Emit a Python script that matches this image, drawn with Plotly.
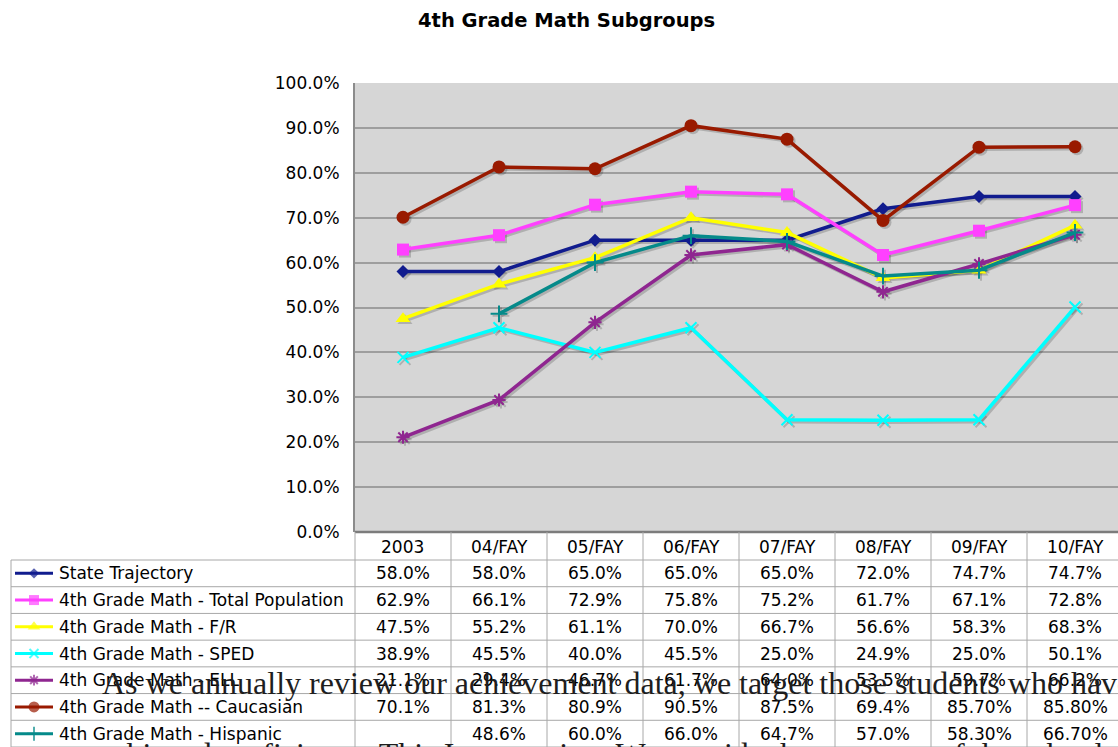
import plotly.graph_objects as go

# ---------------- data ----------------
categories = ["2003", "04/FAY", "05/FAY", "06/FAY", "07/FAY", "08/FAY", "09/FAY", "10/FAY"]
series_names = [
    "State Trajectory",
    "4th Grade Math - Total Population",
    "4th Grade Math - F/R",
    "4th Grade Math - SPED",
    "4th Grade Math - ELL",
    "4th Grade Math -- Caucasian",
    "4th Grade Math - Hispanic",
]
state_trajectory = [58.0, 58.0, 65.0, 65.0, 65.0, 72.0, 74.7, 74.7]
total_population = [62.9, 66.1, 72.9, 75.8, 75.2, 61.7, 67.1, 72.8]
free_reduced = [47.5, 55.2, 61.1, 70.0, 66.7, 56.6, 58.3, 68.3]
sped = [38.9, 45.5, 40.0, 45.5, 25.0, 24.9, 25.0, 50.1]
ell = [21.1, 29.4, 46.7, 61.7, 64.0, 53.5, 59.7, 66.2]
caucasian = [70.1, 81.3, 80.9, 90.5, 87.5, 69.4, 85.70, 85.80]
hispanic = [None, 48.6, 60.0, 66.0, 64.7, 57.0, 58.30, 66.70]
# decimals shown in the data table
table_decimals = [
    [1] * 8, [1] * 8, [1] * 8, [1] * 8, [1] * 8,
    [1, 1, 1, 1, 1, 1, 2, 2],
    [1, 1, 1, 1, 1, 1, 2, 2],
]
y_ticks = [0, 10, 20, 30, 40, 50, 60, 70, 80, 90, 100]
y_tick_labels = [f"{v:.1f}%" for v in y_ticks]
title_text = "4th Grade Math Subgroups"
overlay_line1 = "As we annually review our achievement data, we target those students who have"
overlay_line2 = "not yet achieved proficiency. This Intervention  We provide the structure of the school day to help"

all_series = [state_trajectory, total_population, free_reduced, sped, ell, caucasian, hispanic]

# ---------------- style ----------------
W, H = 1118, 747
colors = ["#111c8e", "#ff40ff", "#ffff00", "#00ffff", "#8f2690", "#991a00", "#058a8a"]
symbols = ["diamond", "square", "triangle-up", "x-thin-open", "asterisk-open", "circle", "cross-thin-open"]
msizes = [10, 12, 13, 11, 11, 13, 12]
FONT = "DejaVu Sans, Verdana, sans-serif"
LW = 3.5

PLOT_L, PLOT_T, PLOT_B = 355, 83, 532
COL_W = 96.0
ROW_TOP = 560
ROW_H = (747 - 560) / 7.0
TABLE_L = 11


def px(x):
    return x / W


def py(y):
    return 1 - y / H


x_idx = list(range(len(categories)))
x_range = [-0.5, -0.5 + (W - PLOT_L) / COL_W]
dx = 2.0 / COL_W
dy = 2.0 * 100.0 / (PLOT_B - PLOT_T)
XDOM = [px(PLOT_L), 1]
YDOM = [py(PLOT_B), py(PLOT_T)]

fig = go.Figure()

# invisible trace so the base axes (grid + tick labels) are created
fig.add_trace(go.Scatter(x=[x_idx[0]], y=[y_ticks[0]], xaxis="x", yaxis="y", mode="markers",
                         marker=dict(size=1, color="rgba(0,0,0,0)"), showlegend=False, hoverinfo="skip"))

# shadows (on overlay axes x2/y2, shifted by a couple of pixels)
for vals, sym, ms in zip(all_series, symbols, msizes):
    open_sym = sym.endswith("open")
    fig.add_trace(go.Scatter(
        x=x_idx, y=vals, xaxis="x2", yaxis="y2", mode="lines+markers",
        line=dict(color="rgba(0,0,0,0.18)", width=LW),
        marker=dict(symbol=sym, size=ms, color="rgba(0,0,0,0.18)",
                    line=dict(color="rgba(0,0,0,0.18)", width=2 if open_sym else 0)),
        showlegend=False, hoverinfo="skip", connectgaps=False,
    ))

# main series (x3/y3)
for name, vals, c, sym, ms in zip(series_names, all_series, colors, symbols, msizes):
    open_sym = sym.endswith("open")
    fig.add_trace(go.Scatter(
        x=x_idx, y=vals, xaxis="x3", yaxis="y3", mode="lines+markers", name=name,
        line=dict(color=c, width=LW),
        marker=dict(symbol=sym, size=ms, color=c,
                    line=dict(color=c, width=2 if open_sym else 0)),
        showlegend=False, connectgaps=False,
    ))

# legend keys in the data table (pixel axes x4/y4)
for i, (c, sym, ms) in enumerate(zip(colors, symbols, msizes)):
    open_sym = sym.endswith("open")
    yc = ROW_TOP + ROW_H * (i + 0.5)
    fig.add_trace(go.Scatter(
        x=[15, 34, 53], y=[yc, yc, yc], xaxis="x4", yaxis="y4",
        mode="lines+markers",
        line=dict(color=c, width=3),
        marker=dict(symbol=sym, size=[0, ms - 2, 0], color=c,
                    line=dict(color=c, width=2 if open_sym else 0)),
        showlegend=False, hoverinfo="skip",
    ))

shapes = []
# plot background
shapes.append(dict(type="rect", xref="paper", yref="paper", x0=px(PLOT_L), x1=1,
                   y0=py(PLOT_B), y1=py(PLOT_T), fillcolor="#d6d6d6",
                   line=dict(width=0), layer="below"))
# 0% baseline
shapes.append(dict(type="line", xref="paper", yref="paper", x0=px(PLOT_L), x1=1,
                   y0=py(PLOT_B), y1=py(PLOT_B), line=dict(color="#7c7c7c", width=2.5)))

TABLE_LINE = dict(color="#a8a8a8", width=1)
# horizontal table lines
for k in range(8):
    yy = ROW_TOP + ROW_H * k
    shapes.append(dict(type="line", xref="paper", yref="paper", x0=px(TABLE_L), x1=1,
                       y0=py(yy), y1=py(yy), line=TABLE_LINE))
# vertical table lines
shapes.append(dict(type="line", xref="paper", yref="paper", x0=px(TABLE_L), x1=px(TABLE_L),
                   y0=py(ROW_TOP), y1=0, line=TABLE_LINE))
for j in range(len(categories)):
    xx = PLOT_L + COL_W * j
    shapes.append(dict(type="line", xref="paper", yref="paper", x0=px(xx), x1=px(xx),
                       y0=py(PLOT_B), y1=0, line=TABLE_LINE))

annotations = []
# title
annotations.append(dict(text="<b>" + title_text + "</b>", x=px(566), y=py(20), xref="paper", yref="paper",
                        showarrow=False, xanchor="center", yanchor="middle",
                        font=dict(family=FONT, size=19.5, color="#000000")))
# header row
for j, cat in enumerate(categories):
    annotations.append(dict(text=cat, x=px(PLOT_L + COL_W * (j + 0.5)), y=py(546.5),
                            xref="paper", yref="paper", showarrow=False,
                            xanchor="center", yanchor="middle",
                            font=dict(family=FONT, size=17, color="#000000")))
# series rows
for i, (name, vals, decs) in enumerate(zip(series_names, all_series, table_decimals)):
    yc = ROW_TOP + ROW_H * (i + 0.5)
    annotations.append(dict(text=name, x=px(57), y=py(yc), xref="paper", yref="paper",
                            showarrow=False, xanchor="left", yanchor="middle",
                            font=dict(family=FONT, size=17, color="#000000")))
    for j, (v, d) in enumerate(zip(vals, decs)):
        if v is None:
            continue
        annotations.append(dict(text=f"{v:.{d}f}%", x=px(PLOT_L + COL_W * (j + 0.5)), y=py(yc),
                                xref="paper", yref="paper", showarrow=False,
                                xanchor="center", yanchor="middle",
                                font=dict(family=FONT, size=17, color="#000000")))
# overlapping document text
annotations.append(dict(text=overlay_line1, x=px(100), y=py(683), xref="paper", yref="paper",
                        showarrow=False, xanchor="left", yanchor="middle",
                        font=dict(family="Liberation Serif, Times New Roman, serif", size=32, color="#1e1e1e")))
annotations.append(dict(text=overlay_line2, x=px(0), y=py(754), xref="paper", yref="paper",
                        showarrow=False, xanchor="left", yanchor="middle",
                        font=dict(family="Liberation Serif, Times New Roman, serif", size=32, color="#1e1e1e")))

fig.update_layout(
    template="none",
    width=W, height=H,
    margin=dict(l=0, r=0, t=0, b=0, pad=0, autoexpand=False),
    paper_bgcolor="#ffffff",
    plot_bgcolor="rgba(0,0,0,0)",
    showlegend=False,
    xaxis=dict(domain=XDOM, range=x_range, showticklabels=False, showgrid=False, automargin=False,
               zeroline=False, showline=False, ticks="", anchor="y"),
    yaxis=dict(domain=YDOM, range=[0, 100], tickmode="array", tickvals=y_ticks, ticktext=y_tick_labels,
               anchor="x", showgrid=True, gridcolor="#9e9e9e", gridwidth=1.5, automargin=False,
               zeroline=False, showline=True, linecolor="#8c8c8c", linewidth=2, ticks="",
               ticklabelstandoff=10, tickfont=dict(family=FONT, size=17, color="#000000")),
    xaxis2=dict(domain=XDOM, overlaying="x", anchor="y2", range=[x_range[0] - dx, x_range[1] - dx],
                visible=False, automargin=False),
    yaxis2=dict(domain=YDOM, overlaying="y", anchor="x2", range=[0 + dy, 100 + dy],
                visible=False, automargin=False),
    xaxis3=dict(domain=XDOM, overlaying="x", anchor="y3", range=x_range, visible=False, automargin=False),
    yaxis3=dict(domain=YDOM, overlaying="y", anchor="x3", range=[0, 100], visible=False, automargin=False),
    xaxis4=dict(domain=[0, 1], range=[0, W], visible=False, anchor="y4", automargin=False),
    yaxis4=dict(domain=[0, 1], range=[H, 0], visible=False, anchor="x4", automargin=False),
    shapes=shapes,
    annotations=annotations,
)

fig.write_html("out.html", config={"displayModeBar": False},
               post_script="document.body.style.margin='0';document.body.style.overflow='hidden';"
                           "document.documentElement.style.overflow='hidden';")
